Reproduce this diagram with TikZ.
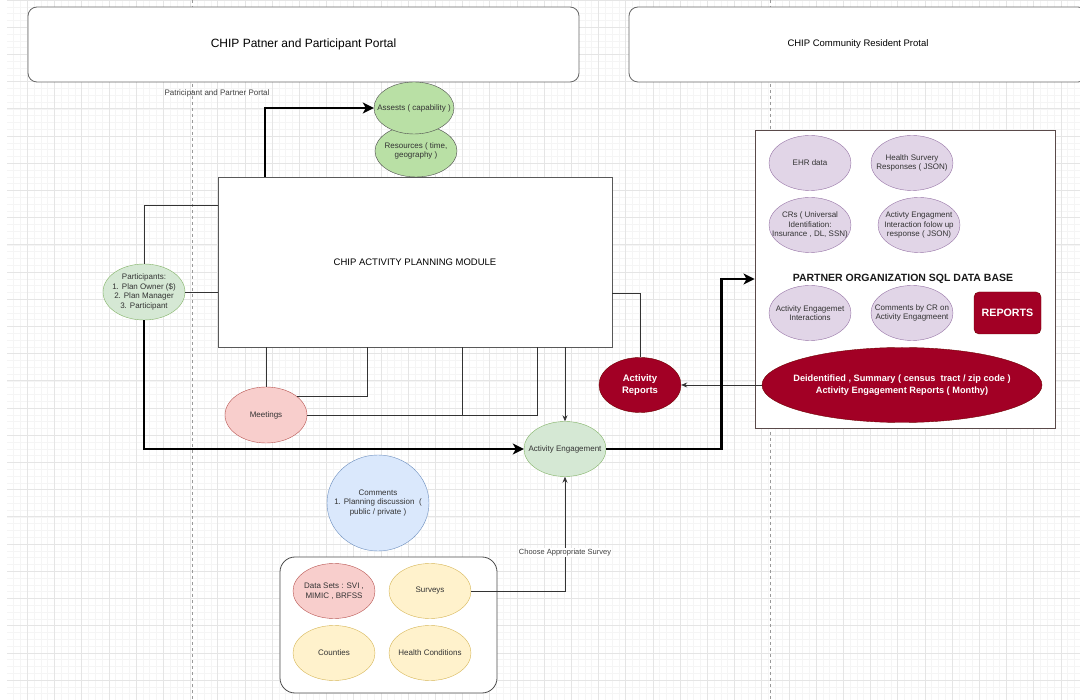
\documentclass[tikz,border=0pt]{standalone}
\usepackage{fontspec}
\setmainfont{Liberation Sans}
\usetikzlibrary{shapes.geometric,arrows.meta}
\definecolor{greenFill}{HTML}{D5E8D4}
\definecolor{greenLine}{HTML}{82B366}
\definecolor{assetFill}{HTML}{B9E0A5}
\definecolor{redFill}{HTML}{F8CECC}
\definecolor{redLine}{HTML}{B85450}
\definecolor{yellowFill}{HTML}{FFF2CC}
\definecolor{yellowLine}{HTML}{D6B656}
\definecolor{blueFill}{HTML}{DAE8FC}
\definecolor{blueLine}{HTML}{6C8EBF}
\definecolor{purpleFill}{HTML}{E1D5E7}
\definecolor{purpleLine}{HTML}{9673A6}
\definecolor{darkRed}{HTML}{A20025}
\definecolor{darkRedLine}{HTML}{6F0000}
\definecolor{dbLine}{HTML}{5A4A4A}

\begin{document}
\begin{tikzpicture}[x=1pt, y=-1pt,
  bubble/.style={ellipse, draw, inner xsep=-12pt, inner ysep=0pt,
    minimum width=82pt, minimum height=55pt, align=center,
    font=\fontsize{8}{9.6}\selectfont, text=black!80},
  greenbub/.style={bubble, fill=greenFill, draw=greenLine},
  redbub/.style={bubble, fill=redFill, draw=redLine},
  yellowbub/.style={bubble, fill=yellowFill, draw=yellowLine},
  purplebub/.style={bubble, fill=purpleFill, draw=purpleLine},
  darkbub/.style={bubble, fill=darkRed, draw=darkRedLine, text=white,
    font=\fontsize{9.5}{12}\bfseries\selectfont},
  portal/.style={draw=black!60, fill=white, rounded corners=9pt, line width=0.8pt},
  link/.style={draw=black!80, line width=0.7pt},
  linkarrow/.style={link, -{Stealth[length=6pt,width=5pt]}},
  bigflow/.style={draw=black, line width=2.2pt, -{Stealth[length=11pt,width=11pt,inset=3pt]}},
  lane/.style={draw=black!40, dashed, line width=0.6pt}]
  \useasboundingbox (0,0) rectangle (1080,700);
  \clip (0,0) rectangle (1080,700);
  \fill[white] (0,0) rectangle (1080,700);
  % background grid
  \draw[black!4, line width=0.4pt, step=6.8pt] (7,700) grid (1080,0);
  \draw[black!10, line width=0.6pt, step=27.2pt] (7,700) grid (1080,0);
  \draw[lane] (192,0) -- (192,700);
  \draw[lane] (770,0) -- (770,700);

  % portals
  \node[portal, minimum width=551pt, minimum height=75pt, font=\fontsize{12}{14}\selectfont] (portalA) at (303.5,44.5) {CHIP Patner and Participant Portal};
  \node[portal, minimum width=458pt, minimum height=75pt, font=\fontsize{9.5}{12}\selectfont] (portalB) at (858,44.5) {CHIP Community Resident Protal};
  \node[font=\fontsize{8}{10}\selectfont, text=black!75] (laneText) at (217,93) {Patricipant and Partner Portal};

  % planning module
  \node[draw=black!65, fill=white, line width=0.8pt, minimum width=394pt, minimum height=170pt, font=\fontsize{9.5}{12}\selectfont] (module) at (415,262) {CHIP ACTIVITY PLANNING MODULE};
  \node[bubble, fill=assetFill, draw=black!70, minimum width=82pt, minimum height=52pt] (resources) at (416,151) {Resources ( time,\\geography )};
  \node[bubble, fill=assetFill, draw=black!70, minimum width=80pt, minimum height=52pt] (assets) at (414,108) {Assests ( capability )};
  \node[greenbub, minimum height=56pt] (part) at (144,292) {Participants:\\1. Plan Owner (\$)\\2. Plan Manager\\3. Participant};
  \node[redbub, minimum height=56pt] (meet) at (266,415) {Meetings};
  \node[greenbub] (ae) at (565,449) {Activity Engagement};
  \node[darkbub] (rep) at (640,385) {Activity\\Reports};
  \node[bubble, fill=blueFill, draw=blueLine, minimum width=102pt, minimum height=96pt] (comm) at (378,503) {Comments\\1. Planning discussion\ \ (\\public / private )};

  % data sources group
  \node[draw=black!70, fill=white, rounded corners=15pt, line width=0.8pt, minimum width=217pt, minimum height=136pt] (group) at (388.5,625) {};
  \node[redbub] (data) at (334,591) {Data Sets : SVI ,\\MIMIC , BRFSS};
  \node[yellowbub] (surv) at (430,591) {Surveys};
  \node[yellowbub] (county) at (334,653) {Counties};
  \node[yellowbub] (health) at (430,653) {Health Conditions};

  % partner database
  \node[draw=dbLine, fill=white, line width=0.9pt, minimum width=300pt, minimum height=298pt] (db) at (905,279) {};
  \node[purplebub] (ehr) at (810,163) {EHR data};
  \node[purplebub] (hsr) at (912,163) {Health Survery\\Responses ( JSON)};
  \node[purplebub] (crs) at (810,225) {CRs ( Universal\\Identifiation:\\Insurance , DL, SSN)};
  \node[purplebub] (aer) at (919,225) {Activty Engagment\\Interaction folow up\\response ( JSON)};
  \node[font=\fontsize{10.5}{12}\bfseries\selectfont, text=black!90] (dbTitle) at (903,279) {PARTNER ORGANIZATION SQL DATA BASE};
  \node[purplebub] (aei) at (810,313) {Activity Engagemet\\Interactions};
  \node[purplebub] (ccr) at (912,313) {Comments by CR on\\Activity Engagmeent};
  \node[fill=darkRed, draw=darkRedLine, rounded corners=5pt, minimum width=67pt, minimum height=42pt, text=white, font=\fontsize{10.7}{12}\bfseries\selectfont] (reports) at (1007.5,313) {REPORTS};
  \node[darkbub, inner xsep=-40pt, minimum width=280pt, minimum height=75pt, font=\fontsize{9.2}{11.5}\bfseries\selectfont] (deid) at (902,385) {Deidentified , Summary ( census\ \ tract / zip code )\\Activity Engagement Reports ( Monthy)};

  % connectors
  \draw[bigflow] ([xshift=47pt]module.north west) |- (assets.west);
  \draw[link] (part.north) |- ([yshift=57pt]module.west);
  \draw[link] (part.east) -- (part.east -| module.west);
  \draw[bigflow] (part.south) |- (ae.west);
  \draw[link] (meet.north |- module.south) -- (meet.north);
  \draw[link] ([xshift=150pt]module.south west) |- (meet.30);
  \draw[link] ([xshift=245pt]module.south west) |- (meet.east);
  \draw[link] ([xshift=320pt]module.south west) |- (meet.east);
  \draw[linkarrow] (ae.north |- module.south) -- (ae.north);
  \draw[link] ([yshift=-31pt]module.east) -| (rep.north);
  \draw[linkarrow] (deid.west) -- (rep.east);
  \draw[bigflow] (ae.east) -| ([xshift=-33pt]db.west) -- (db.west);
  \draw[linkarrow] (surv.east) -| (ae.south)
    node[pos=0.67, fill=white, inner sep=1pt, font=\fontsize{7.5}{9}\selectfont, text=black!75] (survText) {Choose Appropriate Survey};
\end{tikzpicture}
\end{document}
